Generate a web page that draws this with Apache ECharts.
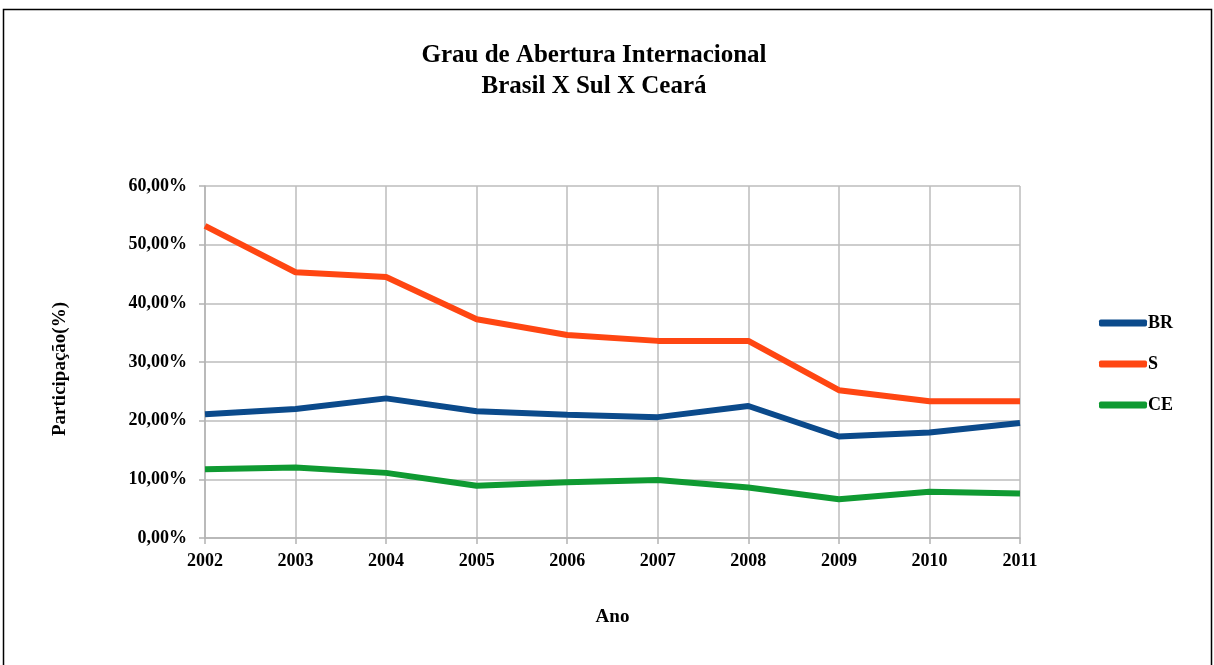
<!DOCTYPE html>
<html>
<head>
<meta charset="utf-8">
<script src="https://cdn.jsdelivr.net/npm/echarts@6/dist/echarts.min.js"></script>
<style>
  html, body { margin: 0; padding: 0; background: #fff; }
  #chart { width: 1214px; height: 665px; }
</style>
</head>
<body>
<div id="chart"></div>
<script>
// Grau de Abertura Internacional - Brasil X Sul X Ceará
const anos = ['2002', '2003', '2004', '2005', '2006', '2007', '2008', '2009', '2010', '2011'];
const br = [21.1, 22.0, 23.8, 21.6, 21.0, 20.6, 22.5, 17.3, 18.0, 19.6];
const sul = [53.2, 45.3, 44.5, 37.3, 34.6, 33.6, 33.6, 25.2, 23.3, 23.3];
const ce = [11.7, 12.0, 11.1, 8.9, 9.5, 9.9, 8.6, 6.6, 7.9, 7.6];

const serif = '"Liberation Serif", "Times New Roman", serif';
const chart = echarts.init(document.getElementById('chart'));

const lineSeries = (name, data, color) => ({
    name, type: 'line', data,
    symbol: 'none',
    lineStyle: { width: 6, color },
    itemStyle: { color }
});

chart.setOption({
    backgroundColor: '#ffffff',
    animation: false,
    title: {
        text: 'Grau de Abertura Internacional\nBrasil X Sul X Ceará',
        left: 589, top: 35, textAlign: 'center',
        textStyle: { fontFamily: serif, fontWeight: 'bold', fontSize: 25, lineHeight: 31, color: '#000' }
    },
    legend: {
        orient: 'vertical', left: 1094, top: 309,
        itemWidth: 48, itemHeight: 7, itemGap: 23,
        icon: 'roundRect',
        textStyle: { fontFamily: serif, fontWeight: 'bold', fontSize: 18, color: '#000', padding: [0, 0, 0, -4] },
        data: ['BR', 'S', 'CE']
    },
    grid: { left: 205, right: 194, top: 186, bottom: 127 },
    xAxis: {
        type: 'category', data: anos, boundaryGap: false,
        name: 'Ano', nameLocation: 'middle', nameGap: 70,
        nameTextStyle: { fontFamily: serif, fontWeight: 'bold', fontSize: 19, color: '#000' },
        axisLine: { lineStyle: { color: '#b3b3b3', width: 1.5 } },
        axisTick: { show: true, length: 6, lineStyle: { color: '#b3b3b3', width: 1.5 } },
        axisLabel: { fontFamily: serif, fontWeight: 'bold', fontSize: 18, color: '#000', margin: 14 },
        splitLine: { show: true, lineStyle: { color: '#bcbcbc', width: 1.5 } }
    },
    yAxis: {
        type: 'value', min: 0, max: 60, interval: 10,
        name: 'Participação(%)', nameLocation: 'middle', nameGap: 135,
        nameTextStyle: { fontFamily: serif, fontWeight: 'bold', fontSize: 19, color: '#000', padding: [0, 14, 0, 0] },
        axisLine: { show: true, lineStyle: { color: '#b3b3b3', width: 1.5 } },
        axisTick: { show: true, length: 6, lineStyle: { color: '#b3b3b3', width: 1.5 } },
        axisLabel: {
            fontFamily: serif, fontWeight: 'bold', fontSize: 18, color: '#000', margin: 18,
            formatter: v => v.toFixed(2).replace('.', ',') + '%'
        },
        splitLine: { lineStyle: { color: '#bcbcbc', width: 1.5 } }
    },
    graphic: [{
        type: 'rect', silent: true,
        shape: { x: 3.5, y: 9.5, width: 1208, height: 700 },
        style: { fill: 'none', stroke: '#000', lineWidth: 1.5 }
    }],
    series: [
        lineSeries('BR', br, '#0b4a8b'),
        lineSeries('S', sul, '#ff4612'),
        lineSeries('CE', ce, '#0f9a32')
    ]
});
</script>
</body>
</html>
